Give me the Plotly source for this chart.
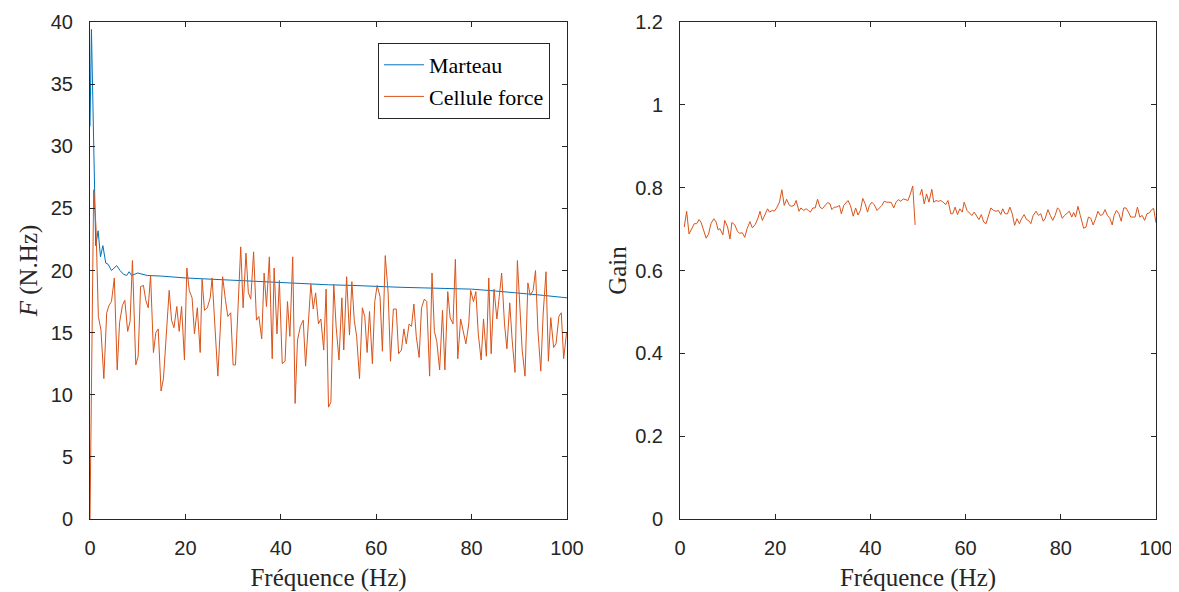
import plotly.graph_objects as go

# ---------------- data ----------------
f_marteau = [0, 0.3, 1.2, 1.7, 2.2, 2.7, 3.3, 3.8, 4.5, 5.0, 5.6, 6.3, 7.0, 7.7, 8.2, 8.7,
             10, 12, 15, 20, 25, 30, 35, 40, 45, 50, 55, 60, 65, 70, 75, 80, 85, 90, 95, 100]
marteau = [31.6, 39.4, 22.0, 23.2, 21.1, 22.0, 20.6, 20.5, 20.0, 20.2, 20.4, 20.0, 19.7, 19.6, 19.9, 19.6,
           19.8, 19.6, 19.55, 19.4, 19.3, 19.2, 19.1, 19.0, 18.9, 18.85, 18.8, 18.7, 18.65, 18.6, 18.55,
           18.5, 18.35, 18.2, 18.0, 17.8]

f_cellule = [0, 0.77, 1.26, 1.75, 2.3, 2.9, 3.5, 4.0, 4.5, 5.1, 5.7, 6.2, 6.8, 7.3, 7.9, 8.4, 8.9, 9.6,
             10.1, 10.6, 11.2, 11.7, 12.2, 12.7, 13.3, 13.8, 14.3, 14.9, 15.4, 16.0, 16.6, 17.1, 17.6,
             18.2, 18.7, 19.2, 19.8,
             20.3, 20.8, 21.4, 21.9, 22.5, 23.1, 23.5, 24.0, 24.6, 25.2, 25.6, 26.2, 26.8, 27.3, 27.8,
             28.4, 28.9, 29.5, 30.0, 30.5, 31.1, 31.6, 32.1, 32.7, 33.2, 33.7, 34.3, 34.9, 35.4, 36.0,
             36.5, 37.0, 37.6, 38.2, 38.6, 39.2, 39.7,
             40.3, 40.9, 41.4, 41.9, 42.5, 43.0, 43.5, 44.1, 44.7, 45.2, 45.8, 46.3, 46.8, 47.3, 47.9,
             48.4, 49.0, 49.5, 50.0, 50.5, 51.1, 51.6, 52.2, 52.8, 53.2, 53.8, 54.4, 54.9, 55.4, 55.9,
             56.5, 57.1, 57.6, 58.1, 58.6, 59.2, 59.7,
             60.2, 60.8, 61.3, 61.9, 62.5, 63.0, 63.6, 64.2, 64.7, 65.3, 65.8, 66.3, 66.9, 67.4, 67.9,
             68.4, 69.0, 69.5, 70.1, 70.6, 71.2, 71.7, 72.2, 72.7, 73.3, 73.9, 74.4, 75.0, 75.5, 76.1,
             76.6, 77.1, 77.7, 78.2, 78.8, 79.4,
             79.8, 80.4, 80.9, 81.4, 82.0, 82.5, 83.1, 83.6, 84.1, 84.7, 85.3, 85.8, 86.3, 86.9, 87.4,
             88.0, 88.5, 89.1, 89.6, 90.2, 90.6, 91.2, 91.8, 92.3, 92.9, 93.4, 93.9, 94.5, 95.0, 95.6,
             96.1, 96.6, 97.2, 97.7, 98.3, 98.8, 99.3, 99.9]
cellule = [0, 26.5, 23.5, 16.3, 15.2, 11.3, 16.6, 17.2, 17.5, 19.4, 12.0, 15.8, 17.2, 17.6, 15.1, 15.9,
           20.8, 12.4, 13.1, 18.7, 18.8, 17.6, 17.0, 19.6, 13.4, 15.0, 15.3, 10.3, 11.3, 15.0, 18.4,
           16.0, 15.4, 17.1, 15.1, 17.1, 12.8,
           20.2, 18.4, 17.8, 14.9, 17.0, 13.4, 19.3, 16.8, 17.0, 17.8, 19.4, 15.5, 11.5, 15.2, 19.5,
           17.6, 16.3, 16.6, 12.4, 12.4, 17.0, 21.9, 17.0, 21.4, 18.2, 17.7, 21.5, 16.0, 16.3, 14.5,
           19.8, 17.1, 21.1, 12.9, 20.2, 14.9, 19.2,
           12.5, 12.7, 17.5, 14.7, 21.1, 9.3, 14.4, 15.5, 16.0, 12.3, 15.7, 18.9, 16.9, 18.2, 15.7,
           16.1, 13.6, 18.5, 9.0, 9.4, 18.9, 15.5, 12.8, 17.8, 13.6, 19.5, 14.8, 19.1, 16.0, 14.7,
           11.3, 17.0, 16.3, 13.4, 16.7, 12.5, 17.5,
           18.8, 17.9, 13.5, 21.2, 18.2, 12.7, 16.9, 16.9, 13.3, 13.6, 15.3, 14.1, 15.7, 15.5, 17.3,
           14.7, 13.0, 17.0, 17.7, 17.5, 11.5, 19.8, 15.1, 14.3, 12.0, 16.8, 12.0, 18.3, 16.2, 15.7,
           20.9, 12.9, 16.1, 15.2, 14.1, 15.7,
           18.4, 17.5, 18.3, 14.9, 12.8, 16.1, 13.1, 19.4, 13.3, 18.5, 16.1, 17.9, 19.8, 15.7, 13.7,
           17.4, 14.4, 11.8, 20.8, 16.5, 13.6, 11.5, 19.0, 18.0, 18.4, 20.0, 15.2, 11.9, 16.5, 19.9,
           12.7, 16.2, 13.8, 14.1, 16.3, 16.6, 12.9, 15.0]

f_gain = [0.9, 1.4, 1.9, 2.5, 3.0, 3.5, 4.0, 4.4, 5.0, 5.5, 6.0, 6.5, 7.1, 7.6, 8.0, 8.4, 9.0, 9.4,
          10.0, 10.5, 10.9, 11.5, 12.1, 12.5, 13.1, 13.6, 14.1, 14.7, 15.2, 15.8, 16.4, 16.8, 17.3,
          17.9, 18.4, 18.8, 19.4,
          19.8, 20.3, 20.9, 21.4, 21.9, 22.4, 23.0, 23.5, 24.0, 24.4, 25.0, 25.4, 26.0, 26.5, 27.0,
          27.4, 27.9, 28.4, 28.9, 29.4, 29.9, 30.5, 31.0, 31.5, 31.9, 32.4, 32.9, 33.5, 33.9, 34.4,
          34.9, 35.3, 35.8, 36.4, 36.9, 37.4, 37.9, 38.4, 38.9, 39.4,
          39.8, 40.3, 40.8, 41.4, 41.9, 42.4, 42.9, 43.4, 43.9, 44.4, 44.9, 45.4, 45.9, 46.4, 46.9,
          47.4, 47.9, 48.4, 48.9, 49.4, 49.9, 50.4, 50.8, 51.3, 51.8, 52.3, 52.9, 53.3, 53.8, 54.3,
          54.8, 55.3, 55.8, 56.3, 56.9, 57.3, 57.8, 58.3, 58.8, 59.3, 59.7,
          60.3, 60.8, 61.3, 61.8, 62.3, 62.8, 63.3, 63.8, 64.3, 64.8, 65.3, 65.9, 66.4, 66.9, 67.4,
          67.8, 68.3, 68.8, 69.3, 69.8, 70.3, 70.8, 71.3, 71.8, 72.3, 72.8, 73.2, 73.7, 74.2, 74.8,
          75.3, 75.8, 76.3, 76.7, 77.3, 77.8, 78.3, 78.8, 79.3, 79.7,
          80.3, 80.8, 81.3, 81.8, 82.3, 82.7, 83.1, 83.6, 84.1, 84.8, 85.3, 85.8, 86.3, 86.8, 87.3,
          87.8, 88.3, 88.8, 89.3, 89.8, 90.3, 90.8, 91.2, 91.7, 92.2, 92.7, 93.2, 93.7, 94.2, 94.7,
          95.2, 95.6, 96.1, 96.6, 97.1, 97.6, 98.1, 98.6, 99.1, 99.5, 100.0]
gain = [0.705, 0.743, 0.688, 0.702, 0.713, 0.713, 0.723, 0.717, 0.693, 0.678, 0.688, 0.713, 0.725,
        0.717, 0.698, 0.701, 0.686, 0.721, 0.705, 0.676, 0.716, 0.71, 0.694, 0.69, 0.691, 0.68, 0.701,
        0.718, 0.703, 0.711, 0.727, 0.743, 0.721, 0.737, 0.749, 0.741, 0.745,
        0.743, 0.751, 0.765, 0.795, 0.757, 0.772, 0.757, 0.755, 0.758, 0.769, 0.743, 0.751, 0.745,
        0.749, 0.745, 0.741, 0.751, 0.751, 0.772, 0.753, 0.749, 0.757, 0.764, 0.761, 0.747, 0.753,
        0.753, 0.757, 0.737, 0.757, 0.765, 0.769, 0.757, 0.731, 0.751, 0.734, 0.745, 0.774, 0.761,
        0.741,
        0.757, 0.765, 0.759, 0.745, 0.751, 0.757, 0.767, 0.765, 0.765, 0.764, 0.751, 0.765, 0.771,
        0.767, 0.773, 0.771, 0.769, 0.785, 0.804, 0.71, None, 0.782, 0.796, 0.761, 0.785, 0.765,
        0.796, 0.765, 0.769, 0.767, 0.769, 0.765, 0.759, 0.769, 0.737, 0.737, 0.753, 0.735, 0.749,
        0.741, 0.765,
        0.745, 0.740, 0.733, 0.741, 0.733, 0.723, 0.735, 0.717, 0.713, 0.733, 0.751, 0.745, 0.743,
        0.745, 0.735, 0.749, 0.737, 0.737, 0.753, 0.737, 0.709, 0.725, 0.713, 0.726, 0.735, 0.723,
        0.721, 0.713, 0.733, 0.743, 0.733, 0.737, 0.719, 0.725, 0.747, 0.733, 0.721, 0.733, 0.751,
        0.747,
        0.726, 0.733, 0.737, 0.743, 0.729, 0.740, 0.729, 0.755, 0.733, 0.702, 0.705, 0.729, 0.726,
        0.710, 0.725, 0.743, 0.733, 0.735, 0.747, 0.733, 0.726, 0.710, 0.733, 0.745, 0.737, 0.719,
        0.751, 0.751, 0.741, 0.729, 0.729, 0.729, 0.753, 0.729, 0.733, 0.721, 0.737, 0.739, 0.747,
        0.75, 0.715]

x_ticks = [0, 20, 40, 60, 80, 100]
y1_ticks = [0, 5, 10, 15, 20, 25, 30, 35, 40]
y2_ticks = [0, 0.2, 0.4, 0.6, 0.8, 1.0, 1.2]
y2_labels = ["0", "0.2", "0.4", "0.6", "0.8", "1", "1.2"]

BLUE = "#0072BD"
ORANGE = "#D95319"
AX = "#262626"
SERIF = "Liberation Serif"
SANS = "Liberation Sans"

fig = go.Figure()
fig.add_trace(go.Scatter(x=f_marteau, y=marteau, mode="lines", name="Marteau",
                         line=dict(color=BLUE, width=1), xaxis="x", yaxis="y"))
fig.add_trace(go.Scatter(x=f_cellule, y=cellule, mode="lines", name="Cellule force",
                         line=dict(color=ORANGE, width=1), xaxis="x", yaxis="y"))
fig.add_trace(go.Scatter(x=f_gain, y=gain, mode="lines", name="Gain", showlegend=False,
                         connectgaps=False, line=dict(color=ORANGE, width=1),
                         xaxis="x2", yaxis="y2"))

axis_common = dict(showline=True, linecolor=AX, linewidth=1, mirror="ticks", ticks="inside",
                   ticklen=5, tickcolor=AX, showgrid=False, zeroline=False, automargin=False,
                   tickfont=dict(family=SANS, size=20, color=AX))

# page offset of the figure inside the browser body
OFF = 8
W, H = 1171, 584


def px_x(x):
    return (x - OFF) / W


def px_y(y):
    return 1 - (y - OFF) / H


title_font = dict(family=SERIF, size=25, color=AX)
fig.update_layout(
    width=W, height=H,
    margin=dict(l=0, r=0, t=0, b=0),
    paper_bgcolor="white", plot_bgcolor="white",
    xaxis=dict(domain=[px_x(90), px_x(567)], range=[0, 100], tickvals=x_ticks, ticklabelstandoff=11,
               title=dict(text="Fréquence (Hz)", font=title_font, standoff=10),
               anchor="y", **axis_common),
    yaxis=dict(domain=[px_y(519), px_y(22)], range=[0, 40], tickvals=y1_ticks, ticklabelstandoff=12,
               title=dict(text="<i>F</i> (N.Hz)", font=title_font, standoff=6),
               anchor="x", **axis_common),
    xaxis2=dict(domain=[px_x(680), px_x(1156)], range=[0, 100], tickvals=x_ticks, ticklabelstandoff=11,
                title=dict(text="Fréquence (Hz)", font=title_font, standoff=10),
                anchor="y2", **axis_common),
    yaxis2=dict(domain=[px_y(519), px_y(22)], range=[0, 1.2], tickvals=y2_ticks,
                ticktext=y2_labels, ticklabelstandoff=12,
                title=dict(text="Gain", font=title_font, standoff=1),
                anchor="x2", **axis_common),
    legend=dict(x=px_x(550), y=px_y(43), xanchor="right", yanchor="top",
                bgcolor="white", bordercolor=AX, borderwidth=1,
                font=dict(family=SERIF, size=22, color="black"),
                tracegroupgap=0, itemwidth=40),
    showlegend=True,
)

fig.write_html("out.html")
